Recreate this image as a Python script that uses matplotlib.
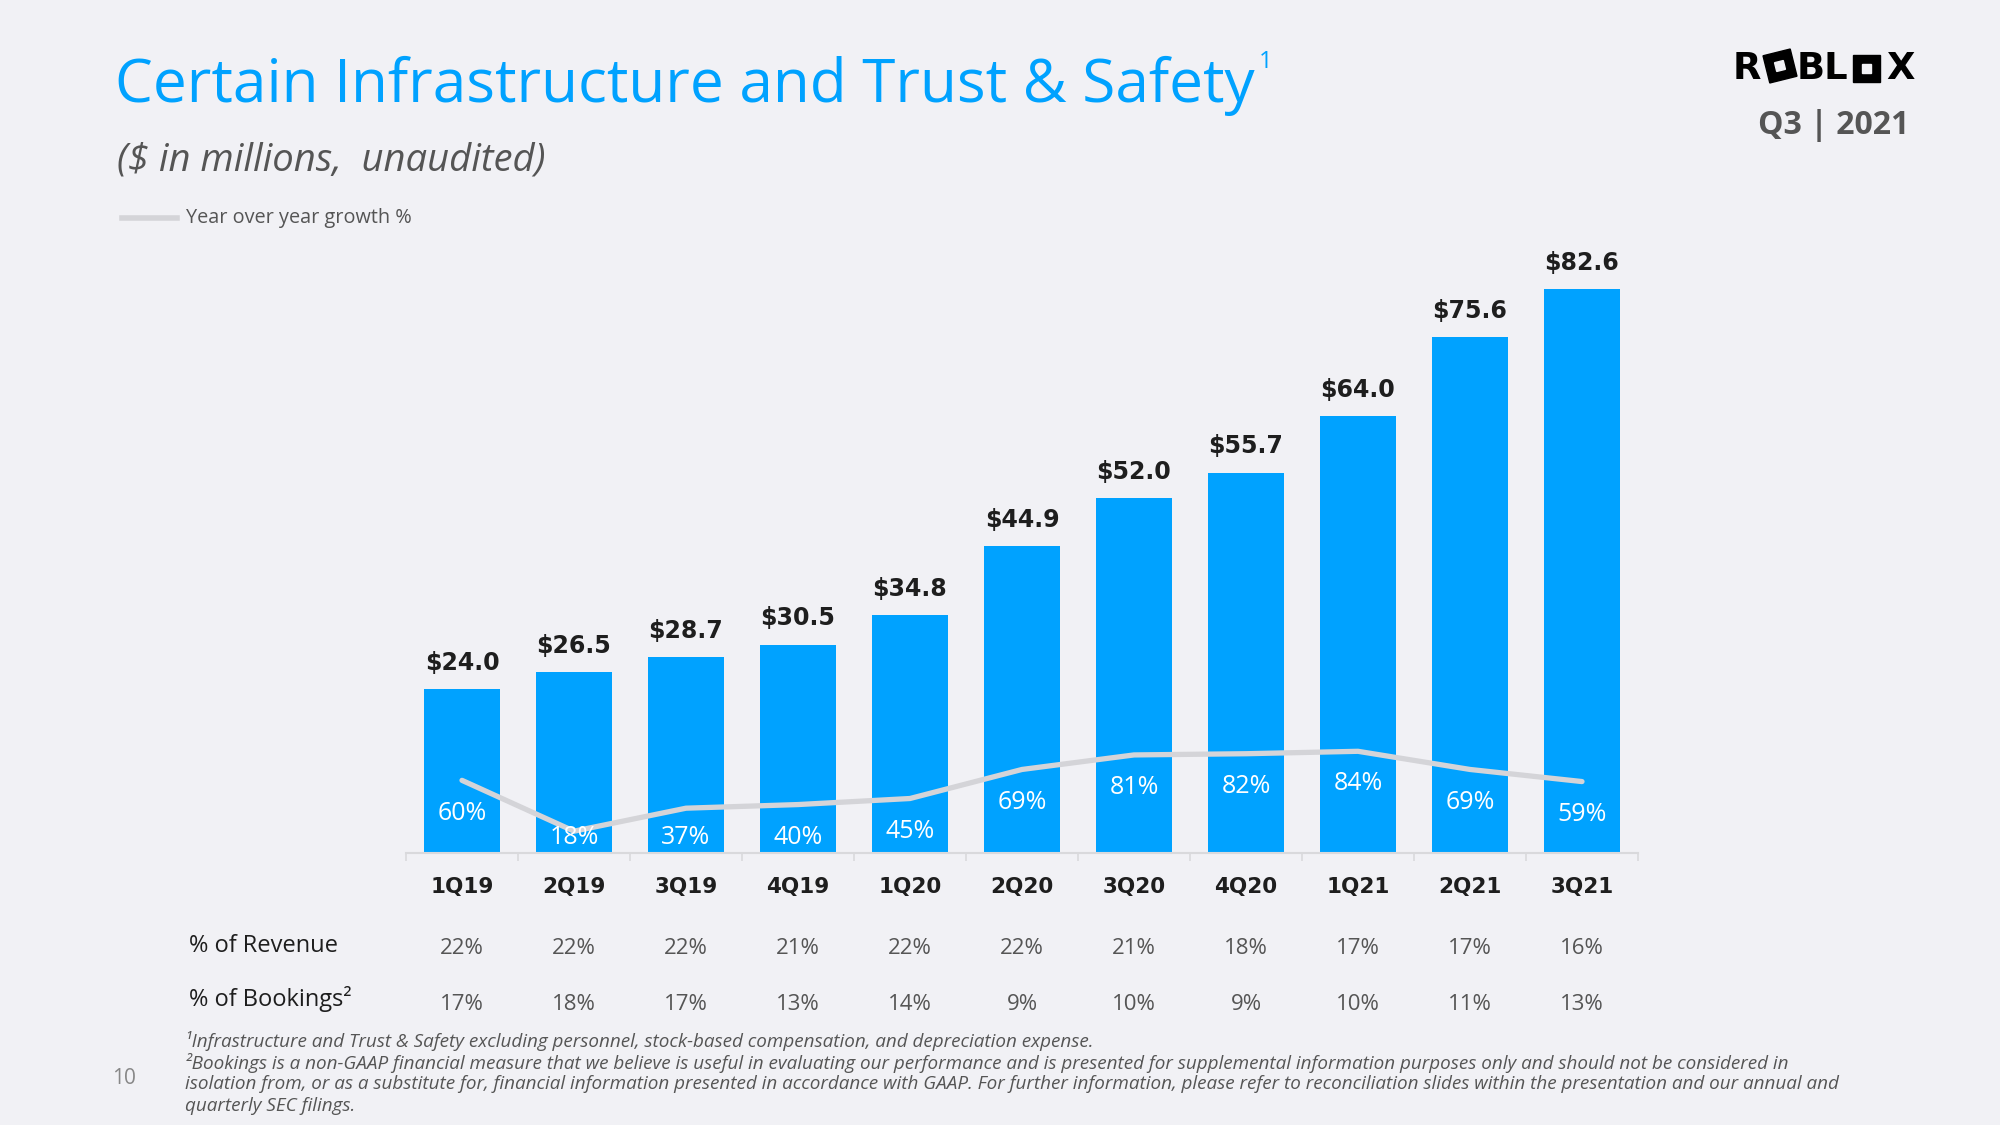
import matplotlib.pyplot as plt
from matplotlib.patches import Rectangle
from matplotlib.transforms import blended_transform_factory, IdentityTransform, Affine2D

# Данные
quarters = ['1Q19', '2Q19', '3Q19', '4Q19', '1Q20', '2Q20', '3Q20', '4Q20', '1Q21', '2Q21', '3Q21']
spend = [24.0, 26.5, 28.7, 30.5, 34.8, 44.9, 52.0, 55.7, 64.0, 75.6, 82.6]
yoy_growth = [60, 18, 37, 40, 45, 69, 81, 82, 84, 69, 59]
pct_revenue = [22, 22, 22, 21, 22, 22, 21, 18, 17, 17, 16]
pct_bookings = [17, 18, 17, 13, 14, 9, 10, 9, 10, 11, 13]

BLUE = '#00A2FF'
BG = '#F1F1F5'
DARK = '#1E1E1E'
GREY = '#555555'
LINE_GREY = '#D4D4D8'
SANS = ['Open Sans', 'DejaVu Sans']
W, H = 2000, 1125


def fx(px):
    return px / W


def fy(py):
    # пиксели сверху -> доля фигуры снизу
    return 1 - py / H


fig = plt.figure(figsize=(20, 11.25), dpi=100)
fig.patch.set_facecolor(BG)

ax = fig.add_axes([0.203, 0.2418, 0.616, 0.6068])
ax.set_facecolor('none')
x = list(range(len(quarters)))
ax.bar(x, spend, width=0.67, color=BLUE, zorder=2)
ax.set_xlim(-0.5, len(quarters) - 0.5)
ax.set_ylim(0, 100)

for s in ['top', 'right', 'left']:
    ax.spines[s].set_visible(False)
ax.spines['bottom'].set_color('#D9D9DC')
ax.spines['bottom'].set_linewidth(1.5)
ax.set_yticks([])
ax.set_xticks([i + 0.5 for i in range(-1, len(quarters))], minor=True)
ax.tick_params(axis='x', which='minor', length=6, color='#D9D9DC', width=1.2)
ax.set_xticks(x)
ax.set_xticklabels(quarters, fontsize=15.5, fontweight='bold', color=DARK, family='DejaVu Sans')
ax.tick_params(axis='x', which='major', length=0, pad=17.5)

# подписи значений над столбцами
for i, v in enumerate(spend):
    ax.annotate(f'${v:.1f}', (i, v), xytext=(0, 19), textcoords='offset points',
                ha='center', va='center', fontsize=17, fontweight='bold', color=DARK,
                family='DejaVu Sans')

# линия роста год к году
ax2 = ax.twinx()
ax2.set_ylim(0, 564)
ax2.axis('off')
ax2.plot(x, yoy_growth, color=LINE_GREY, lw=3.8, solid_capstyle='round', zorder=3)
for i, g in enumerate(yoy_growth):
    ax2.text(i, max(g - 27, 12.5), f'{g}%', ha='center', va='center', fontsize=18,
             color='white', family=SANS)

# таблица процентов
tr = blended_transform_factory(ax.transData, fig.transFigure)
fig.text(fx(189), fy(946), '% of Revenue', fontsize=17, color=DARK, va='center', family=SANS)
fig.text(fx(189), fy(999), '% of Bookings²', fontsize=17, color=DARK, va='center', family=SANS)
for i in x:
    ax.text(i, fy(949), f'{pct_revenue[i]}%', transform=tr, ha='center', va='center',
            fontsize=16, color=GREY, family=SANS)
    ax.text(i, fy(1005), f'{pct_bookings[i]}%', transform=tr, ha='center', va='center',
            fontsize=16, color=GREY, family=SANS)

# заголовки
title = fig.text(fx(115), fy(86), 'Certain Infrastructure and Trust & Safety', fontsize=43.4,
                 color=BLUE, va='center', family=SANS)
renderer = fig.canvas.get_renderer()
tb = title.get_window_extent(renderer)
fig.text(tb.x1 / W + 0.002, fy(62), '1', fontsize=17, color=BLUE, va='center', family=SANS)
fig.text(fx(117), fy(160), '($ in millions,  unaudited)', fontsize=27.5, color=GREY,
         style='italic', va='center', family=SANS)

# легенда
fig.add_artist(plt.Line2D([fx(122), fx(177)], [fy(218)] * 2, color=LINE_GREY, lw=4))
fig.text(fx(186), fy(218), 'Year over year growth %', fontsize=14.3, color=GREY,
         va='center', family=SANS)

# логотип: буквы текстом, "O" — квадраты
pix = IdentityTransform()
logo_y = H - 68.5
for letter, lx in [('R', 1733), ('BL', 1797), ('X', 1886)]:
    fig.text(lx / W, logo_y / H, letter, fontsize=26.6, fontweight='bold', color='black',
             ha='left', va='center', family='DejaVu Sans')
tilt = Affine2D().rotate_deg_around(1780, H - 66, 14) + pix
fig.add_artist(Rectangle((1780 - 14, H - 66 - 14), 28, 28, color='black', transform=tilt))
fig.add_artist(Rectangle((1780 - 4.5, H - 66 - 4.5), 9, 9, color=BG, transform=tilt))
fig.add_artist(Rectangle((1866 - 13.5, logo_y - 13.5), 27, 27, color='black', transform=pix))
fig.add_artist(Rectangle((1866 - 4.5, logo_y - 4.5), 9, 9, color=BG, transform=pix))
fig.text(fx(1834), fy(126), 'Q3 | 2021', fontsize=23, fontweight='bold', color=GREY,
         ha='center', va='center', family=SANS)

# сноски
notes = [
    '¹Infrastructure and Trust & Safety excluding personnel, stock-based compensation, and depreciation expense.',
    '²Bookings is a non-GAAP financial measure that we believe is useful in evaluating our performance and is presented for supplemental information purposes only and should not be considered in',
    'isolation from, or as a substitute for, financial information presented in accordance with GAAP. For further information, please refer to reconciliation slides within the presentation and our annual and',
    'quarterly SEC filings.',
]
for k, line in enumerate(notes):
    fig.text(fx(185), fy(1041 + 21.7 * k), line, fontsize=13.6, color=GREY,
             style='italic', va='center', family=SANS)
fig.text(fx(124), fy(1079), '10', fontsize=15, color='#888888', ha='center',
         va='center', family=SANS)

fig.savefig('out.png', dpi=100, facecolor=BG)
